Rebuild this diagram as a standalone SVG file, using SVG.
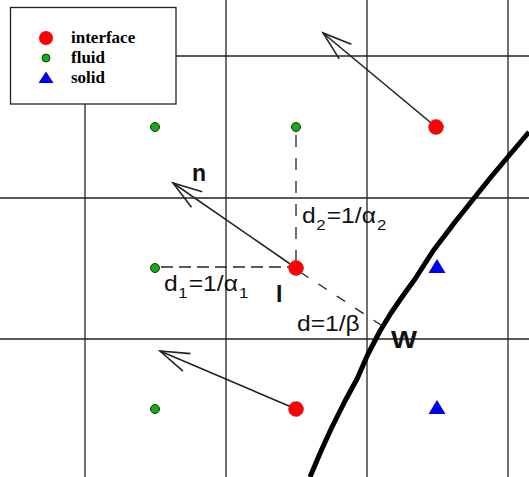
<svg xmlns="http://www.w3.org/2000/svg" width="529" height="477" viewBox="0 0 529 477">
<defs>
<style>
.grid{stroke:#222;stroke-width:1.3;fill:none}
.dash{stroke:#222;stroke-width:1.3;fill:none}
.arrow{stroke:#222;stroke-width:1.6;fill:none}
.wall{stroke:#000;stroke-width:5;fill:none;stroke-linejoin:round;stroke-linecap:butt}
.iface{fill:#ff0000;stroke:#b04040;stroke-width:1;stroke-dasharray:1.5,1}
.fluid{fill:#1aa81a;stroke:#0b3d0b;stroke-width:1}
.solid{fill:#0000ee}
.lab{font-family:"Liberation Sans",Arial,sans-serif;fill:#111}
.leg{font-family:"Liberation Serif","Times New Roman",serif;font-weight:bold;font-size:17px;fill:#000}
</style>
<marker id="head" markerUnits="userSpaceOnUse" markerWidth="40" markerHeight="40" refX="0" refY="0" orient="auto" overflow="visible">
<path d="M-29,-9.5 L0,0 L-29,9.5" stroke="#222" stroke-width="1.6" fill="none"/>
</marker>
</defs>
<rect width="529" height="477" fill="#fff"/>
<g id="grid">
<line class="grid" x1="85" y1="104" x2="85" y2="477"/>
<line class="grid" x1="226" y1="0" x2="226" y2="477"/>
<line class="grid" x1="367" y1="0" x2="367" y2="477"/>
<line class="grid" x1="508" y1="0" x2="508" y2="477"/>
<line class="grid" x1="176" y1="56" x2="529" y2="56"/>
<line class="grid" x1="0" y1="198" x2="529" y2="198"/>
<line class="grid" x1="0" y1="339" x2="529" y2="339"/>
</g>
<g id="wall">
<path class="wall" d="M310,477 L321,451 L332,427 L345,401 L357,379 L368,354 L380,331 L391,313 L402,297 L415,279 L433,251 L455,222 L475,197 L491,177 L507,158 L529,132"/>
</g>
<g id="connectors">
<line class="dash" x1="296" y1="135" x2="296" y2="262" stroke-dasharray="12,11"/>
<line class="dash" x1="161" y1="267" x2="290" y2="267" stroke-dasharray="12,6"/>
<line class="dash" x1="300" y1="272" x2="384" y2="327" stroke-dasharray="10,12"/>
<line class="arrow" x1="436" y1="127" x2="323" y2="33" marker-end="url(#head)"/>
<line class="arrow" x1="296" y1="268" x2="173" y2="183" marker-end="url(#head)"/>
<line class="arrow" x1="296" y1="409" x2="160" y2="351" marker-end="url(#head)"/>
</g>
<g id="fluid-nodes">
<circle id="f1" class="fluid" cx="155" cy="127" r="4.5"/>
<circle id="f2" class="fluid" cx="296" cy="127" r="4.5"/>
<circle id="f3" class="fluid" cx="155" cy="268" r="4.5"/>
<circle id="f4" class="fluid" cx="155" cy="409" r="4.5"/>
</g>
<g id="interface-nodes">
<circle id="i1" class="iface" cx="436" cy="127" r="7.5"/>
<circle id="i2" class="iface" cx="296" cy="268" r="7.5"/>
<circle id="i3" class="iface" cx="296" cy="409" r="7.5"/>
</g>
<g id="solid-nodes">
<polygon id="s1" class="solid" points="437,259 445.5,273 428.5,273"/>
<polygon id="s2" class="solid" points="437,400 445.5,414 428.5,414"/>
</g>
<g id="labels">
<text class="lab" x="192" y="181" font-size="23" font-weight="bold">n</text>
<text class="lab" transform="translate(302,223) scale(1.12,1)" font-size="22">d<tspan font-size="15" dy="7" dx="0.5">2</tspan><tspan dy="-7" dx="1">=1/α</tspan><tspan font-size="15" dy="7" dx="1">2</tspan></text>
<text class="lab" transform="translate(164,291) scale(1.12,1)" font-size="22">d<tspan font-size="15" dy="7" dx="0.5">1</tspan><tspan dy="-7" dx="1">=1/α</tspan><tspan font-size="15" dy="7" dx="1">1</tspan></text>
<text class="lab" x="276" y="302" font-size="23" font-weight="bold">I</text>
<text class="lab" transform="translate(297,331) scale(1.12,1)" font-size="22">d=1/β</text>
<text class="lab" transform="translate(391,348) scale(1.2,1)" font-size="23" font-weight="bold">W</text>
</g>
<g id="legend">
<rect x="10.5" y="7.5" width="165.5" height="96.5" fill="#fff" stroke="#222" stroke-width="1.3"/>
<circle cx="46" cy="38" r="7" fill="#ff0000"/>
<circle cx="46" cy="58" r="4" fill="#1aa81a" stroke="#0b3d0b" stroke-width="1"/>
<polygon points="46,71.5 53.5,83 38.5,83" fill="#0000ee"/>
<text class="leg" x="71" y="43">interface</text>
<text class="leg" x="71" y="63">fluid</text>
<text class="leg" x="71" y="83">solid</text>
</g>
</svg>
